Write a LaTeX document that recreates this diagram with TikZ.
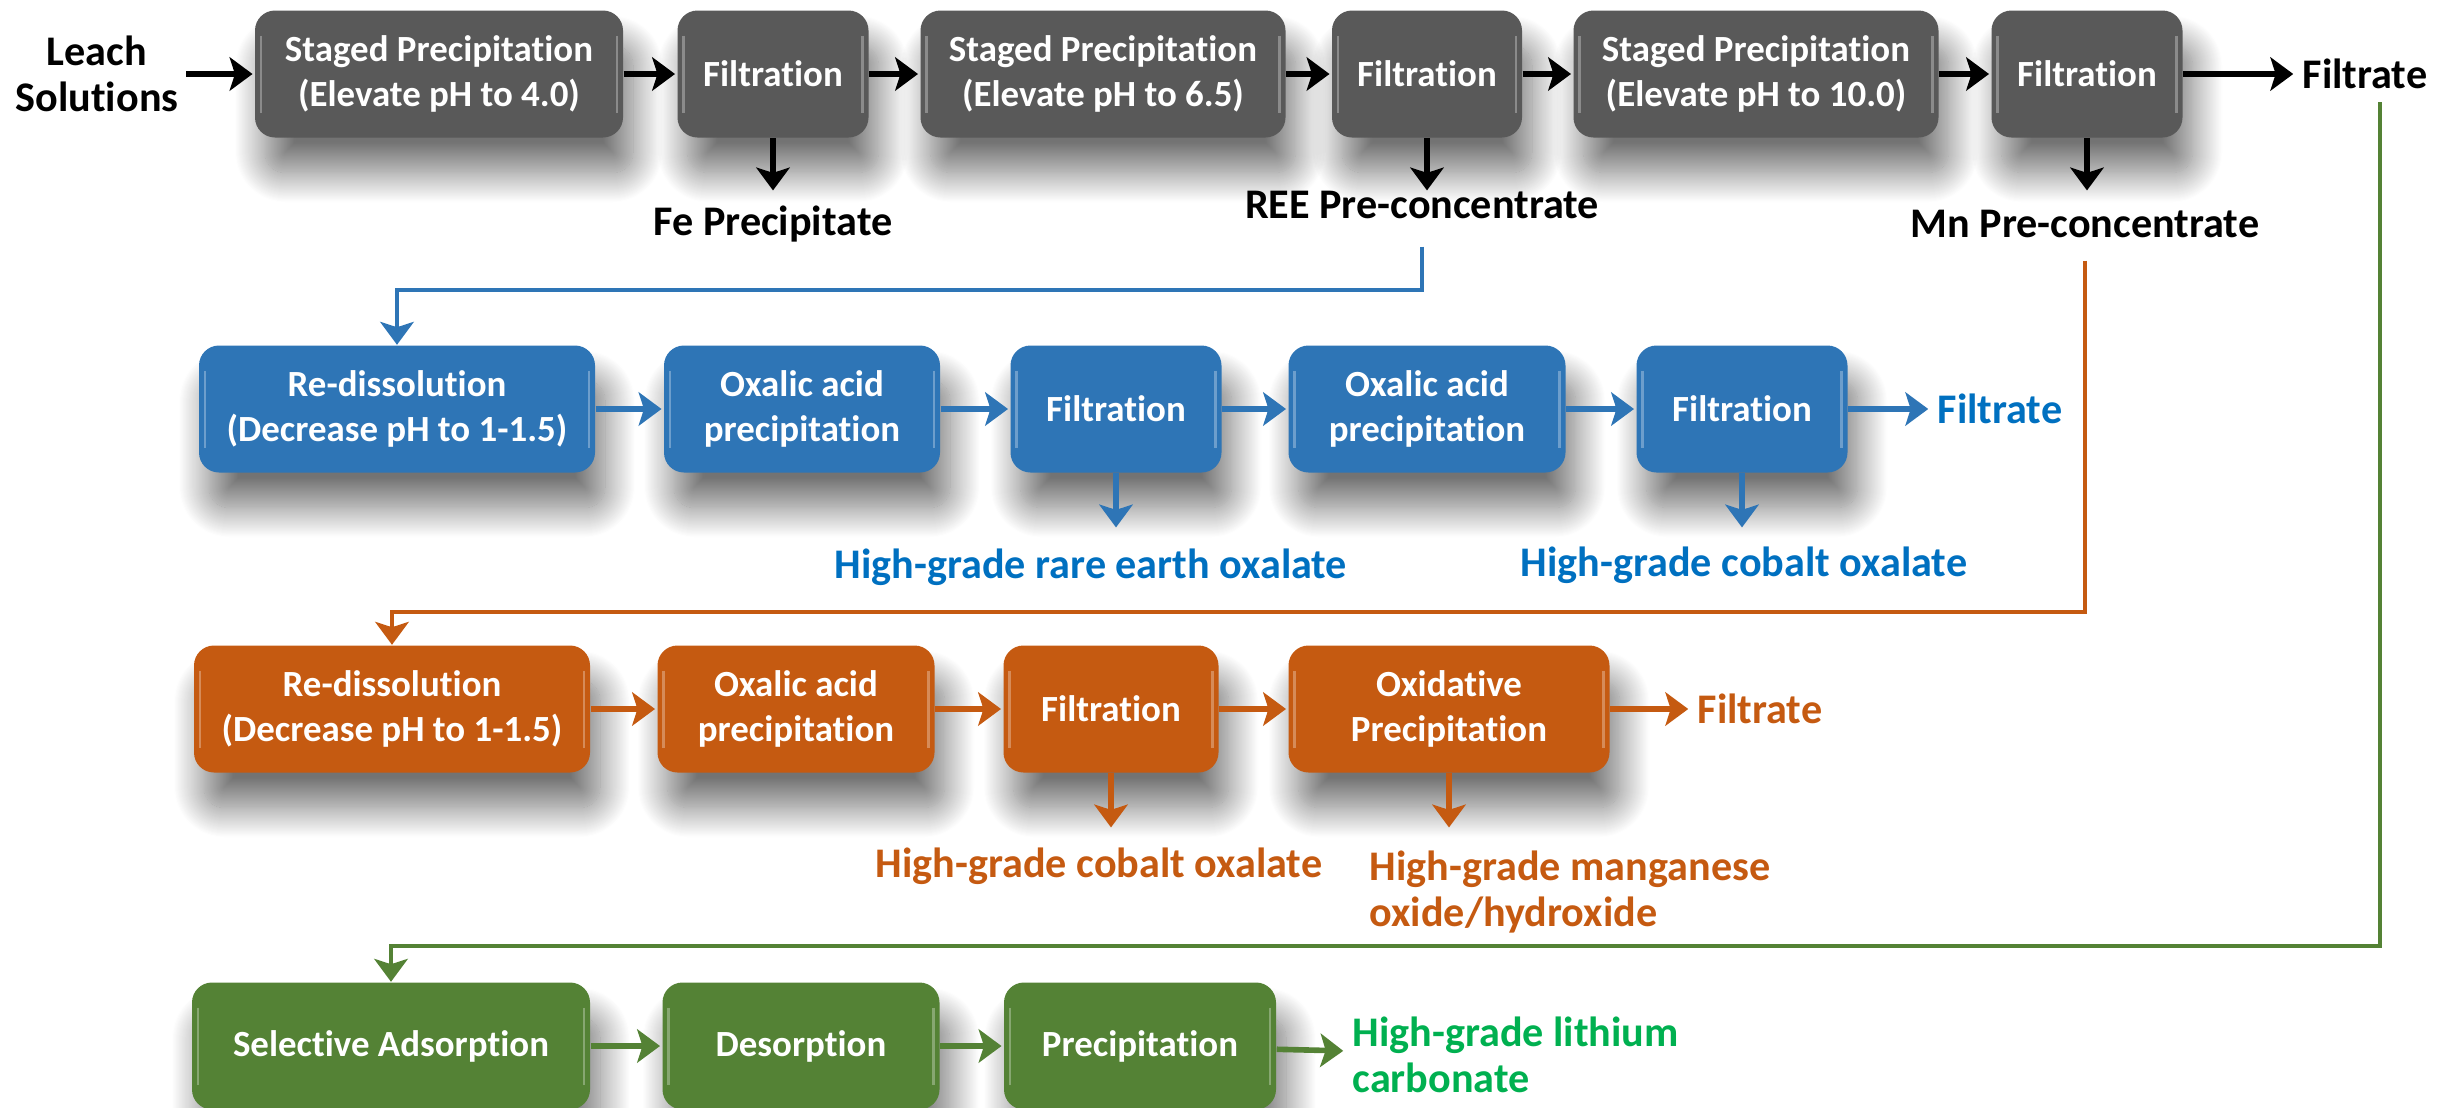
\documentclass[tikz,border=0pt]{standalone}
\usepackage{fontspec}
\setmainfont{Carlito}[Ligatures=NoCommon]
\usetikzlibrary{arrows.meta,shadows.blur}

\definecolor{boxgray}{HTML}{595959}
\definecolor{boxblue}{HTML}{2E75B6}
\definecolor{txtblue}{HTML}{0070C0}
\definecolor{boxorange}{HTML}{C55A11}
\definecolor{boxgreen}{HTML}{548235}
\definecolor{txtgreen}{HTML}{00B050}

\tikzset{
  stage/.style={rounded corners=2mm, minimum height=1.27cm, align=center,
    inner sep=0pt, text=white, font=\bfseries\fontsize{10.5}{12.8}\selectfont,
    blur shadow={shadow xshift=1mm, shadow yshift=-3.5mm,
      shadow blur radius=3mm, shadow blur steps=30, shadow opacity=55},
    % glossy rims on both sides
    path picture={
      \draw[white, opacity=0.3, line width=0.6pt]
        ([xshift=0.6mm,yshift=-2.5mm]path picture bounding box.north west)
        -- ([xshift=0.6mm,yshift=2.5mm]path picture bounding box.south west);
      \draw[white, opacity=0.3, line width=0.6pt]
        ([xshift=-0.6mm,yshift=-2.5mm]path picture bounding box.north east)
        -- ([xshift=-0.6mm,yshift=2.5mm]path picture bounding box.south east);
    }},
  graybox/.style={stage, fill=boxgray},
  bluebox/.style={stage, fill=boxblue},
  orangebox/.style={stage, fill=boxorange},
  greenbox/.style={stage, fill=boxgreen},
  product/.style={font=\bfseries\fontsize{12}{13}\selectfont, align=center, inner sep=2pt},
  flow/.style={line width=1.6pt, shorten >=0.5pt,
    -{Stealth[length=6.5pt,width=9.5pt,inset=1.5pt]}},
  link/.style={line width=1.3pt, -{Stealth[length=6.5pt,width=9.5pt,inset=1.5pt]}}
}

\begin{document}
\begin{tikzpicture}
    \useasboundingbox (0,0) rectangle (24.55,-11.08);

    % row 1: staged precipitation
    \node[product] (leach) at (0.97,-0.74) {Leach\\Solutions};
    \node[graybox, minimum width=3.68cm] (b1) at (4.39,-0.74) {Staged Precipitation\\(Elevate pH to 4.0)};
    \node[graybox, minimum width=1.91cm] (f1) at (7.73,-0.74) {Filtration};
    \node[graybox, minimum width=3.65cm] (b2) at (11.03,-0.74) {Staged Precipitation\\(Elevate pH to 6.5)};
    \node[graybox, minimum width=1.90cm] (f2) at (14.27,-0.74) {Filtration};
    \node[graybox, minimum width=3.65cm] (b3) at (17.56,-0.74) {Staged Precipitation\\(Elevate pH to 10.0)};
    \node[graybox, minimum width=1.91cm] (f3) at (20.87,-0.74) {Filtration};
    \node[product, anchor=west] (filt1) at (22.95,-0.74) {Filtrate};

    \node[product] (fe) at (7.73,-2.24) {Fe Precipitate};
    \node[product] (ree) at (14.22,-2.05) {REE Pre-concentrate};
    \node[product] (mn) at (20.85,-2.24) {Mn Pre-concentrate};

    \foreach \a/\b in {leach/b1, b1/f1, f1/b2, b2/f2, f2/b3, b3/f3, f3/filt1}
        \draw[flow] (\a) -- (\b);
    \foreach \f in {f1, f2, f3}
        \draw[flow] (\f.south) -- ++(0,-0.54);

    % row 2: rare earth and cobalt
    \node[bluebox, minimum width=3.96cm] (r2) at (3.97,-4.09) {Re-dissolution\\(Decrease pH to 1-1.5)};
    \node[bluebox, minimum width=2.76cm] (ox2a) at (8.02,-4.09) {Oxalic acid\\precipitation};
    \node[bluebox, minimum width=2.11cm] (fi2a) at (11.16,-4.09) {Filtration};
    \node[bluebox, minimum width=2.77cm] (ox2b) at (14.27,-4.09) {Oxalic acid\\precipitation};
    \node[bluebox, minimum width=2.11cm] (fi2b) at (17.42,-4.09) {Filtration};
    \node[product, text=txtblue, anchor=west] (filt2) at (19.30,-4.09) {Filtrate};

    \node[product, text=txtblue] (reox) at (10.91,-5.67) {High-grade rare earth oxalate};
    \node[product, text=txtblue] (coox1) at (17.44,-5.65) {High-grade cobalt oxalate};

    \foreach \a/\b in {r2/ox2a, ox2a/fi2a, fi2a/ox2b, ox2b/fi2b, fi2b/filt2}
        \draw[flow, boxblue] (\a) -- (\b);
    \foreach \f in {fi2a, fi2b}
        \draw[flow, boxblue] (\f.south) -- ++(0,-0.56);

    % row 3: cobalt and manganese
    \node[orangebox, minimum width=3.96cm] (r3) at (3.92,-7.09) {Re-dissolution\\(Decrease pH to 1-1.5)};
    \node[orangebox, minimum width=2.77cm] (ox3) at (7.96,-7.09) {Oxalic acid\\precipitation};
    \node[orangebox, minimum width=2.15cm] (fi3) at (11.11,-7.09) {Filtration};
    \node[orangebox, minimum width=3.21cm] (oxid) at (14.49,-7.09) {Oxidative\\Precipitation};
    \node[product, text=boxorange, anchor=west] (filt3) at (16.90,-7.09) {Filtrate};

    \node[product, text=boxorange] (coox2) at (10.99,-8.66) {High-grade cobalt oxalate};
    \node[product, text=boxorange, align=left, anchor=west] (mnox) at (13.62,-8.92)
        {High-grade manganese\\oxide/hydroxide};

    \foreach \a/\b in {r3/ox3, ox3/fi3, fi3/oxid, oxid/filt3}
        \draw[flow, boxorange] (\a) -- (\b);
    \foreach \f in {fi3, oxid}
        \draw[flow, boxorange] (\f.south) -- ++(0,-0.56);

    % row 4: lithium
    \node[greenbox, minimum width=3.98cm] (sa) at (3.91,-10.46) {Selective Adsorption};
    \node[greenbox, minimum width=2.77cm] (de) at (8.01,-10.46) {Desorption};
    \node[greenbox, minimum width=2.72cm] (pr) at (11.40,-10.46) {Precipitation};
    \node[product, text=txtgreen, align=left, anchor=west] (li) at (13.45,-10.55)
        {High-grade lithium\\carbonate};

    \foreach \a/\b in {sa/de, de/pr, pr/li}
        \draw[flow, boxgreen] (\a) -- (\b);

    % links between the rows
    \coordinate (gstart) at (23.80,-1.02);
    \draw[link, boxblue] ([yshift=-2mm]ree.south) |- ([yshift=5.5mm]r2.north) -- (r2.north);
    \draw[link, boxorange] ([yshift=-1.5mm]mn.south) |- ([yshift=3.3mm]r3.north) -- (r3.north);
    \draw[link, boxgreen] (gstart) |- ([yshift=3.6mm]sa.north) -- (sa.north);
\end{tikzpicture}
\end{document}
